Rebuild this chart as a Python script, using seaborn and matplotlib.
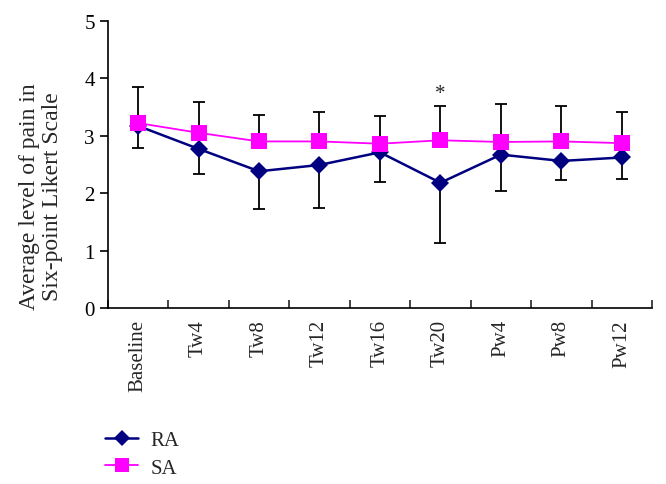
import numpy as np
import pandas as pd
import matplotlib
matplotlib.use('Agg')
import matplotlib.pyplot as plt
import seaborn as sns
from matplotlib.lines import Line2D

sns.set_theme(style='ticks')
plt.rcParams['font.family'] = ['Liberation Serif', 'DejaVu Serif']

# data
times = ['Baseline', 'Tw4', 'Tw8', 'Tw12', 'Tw16', 'Tw20', 'Pw4', 'Pw8', 'Pw12']
ra_mean = [3.17, 2.77, 2.38, 2.49, 2.71, 2.18, 2.67, 2.56, 2.62]
ra_err = [0.38, 0.44, 0.66, 0.75, 0.52, 1.05, 0.64, 0.34, 0.38]   # drawn downwards
sa_mean = [3.22, 3.05, 2.90, 2.90, 2.86, 2.92, 2.89, 2.90, 2.87]
sa_err = [0.62, 0.53, 0.46, 0.51, 0.48, 0.60, 0.66, 0.61, 0.54]   # drawn upwards
star_at = 'Tw20'

COLORS = {'RA': '#000080', 'SA': '#ff00ff'}

df = pd.DataFrame({
    'time': times * 2,
    'pain': ra_mean + sa_mean,
    'group': ['RA'] * len(times) + ['SA'] * len(times),
})

fig = plt.figure(figsize=(6.66, 4.85), dpi=100)
ax = fig.add_axes([0.162, 0.363, 0.817, 0.592])

x = np.arange(len(times))
zeros = np.zeros(len(times))
ax.errorbar(x, ra_mean, yerr=[ra_err, zeros], fmt='none', ecolor='black',
            elinewidth=1.3, capsize=4, capthick=1.3, zorder=1)
ax.errorbar(x, sa_mean, yerr=[zeros, sa_err], fmt='none', ecolor='black',
            elinewidth=1.3, capsize=4, capthick=1.3, zorder=1)

sns.lineplot(data=df[df.group == 'SA'], x='time', y='pain', color=COLORS['SA'],
             marker='s', markersize=12, markeredgewidth=0, lw=1.3, ax=ax,
             sort=False, zorder=3)
sns.lineplot(data=df[df.group == 'RA'], x='time', y='pain', color=COLORS['RA'],
             marker='D', markersize=9.5, markeredgewidth=0, lw=1.8, ax=ax,
             sort=False, zorder=2)

i = times.index(star_at)
ax.text(i, sa_mean[i] + sa_err[i] + 0.05, '*', ha='center', va='bottom', fontsize=15)

ax.set_xlim(-0.5, len(times) - 0.5)
ax.set_ylim(0, 5)
ax.set_yticks(range(6))
ax.tick_params(axis='y', labelsize=15, direction='out', length=6, width=1.2, colors='black')
ax.set_xticks(np.arange(len(times) + 1) - 0.5)
ax.set_xticklabels([])
ax.set_xticks(x, minor=True)
ax.set_xticklabels(times, minor=True, rotation=90, fontsize=15)
ax.tick_params(axis='x', which='major', direction='in', length=6, width=1.2)
ax.tick_params(axis='x', which='minor', length=0, pad=8)
ax.set_xlabel('')
ax.set_ylabel('Average level of pain in\nSix-point Likert Scale', fontsize=17,
              linespacing=1.1)
ax.yaxis.set_label_coords(-0.083, 0.39)
sns.despine(ax=ax)
for s in ['left', 'bottom']:
    ax.spines[s].set_linewidth(1.2)
    ax.spines[s].set_color('black')

handles = [
    Line2D([], [], color=COLORS['RA'], lw=1.8, marker='D', ms=8, mew=0),
    Line2D([], [], color=COLORS['SA'], lw=1.3, marker='s', ms=10, mew=0),
]
fig.legend(handles, ['RA', 'SA'], loc='upper left', bbox_to_anchor=(0.145, 0.128),
           frameon=False, fontsize=15, handlelength=1.6, handletextpad=0.6,
           labelspacing=0.4, borderaxespad=0)

fig.savefig('out.png', dpi=100)
